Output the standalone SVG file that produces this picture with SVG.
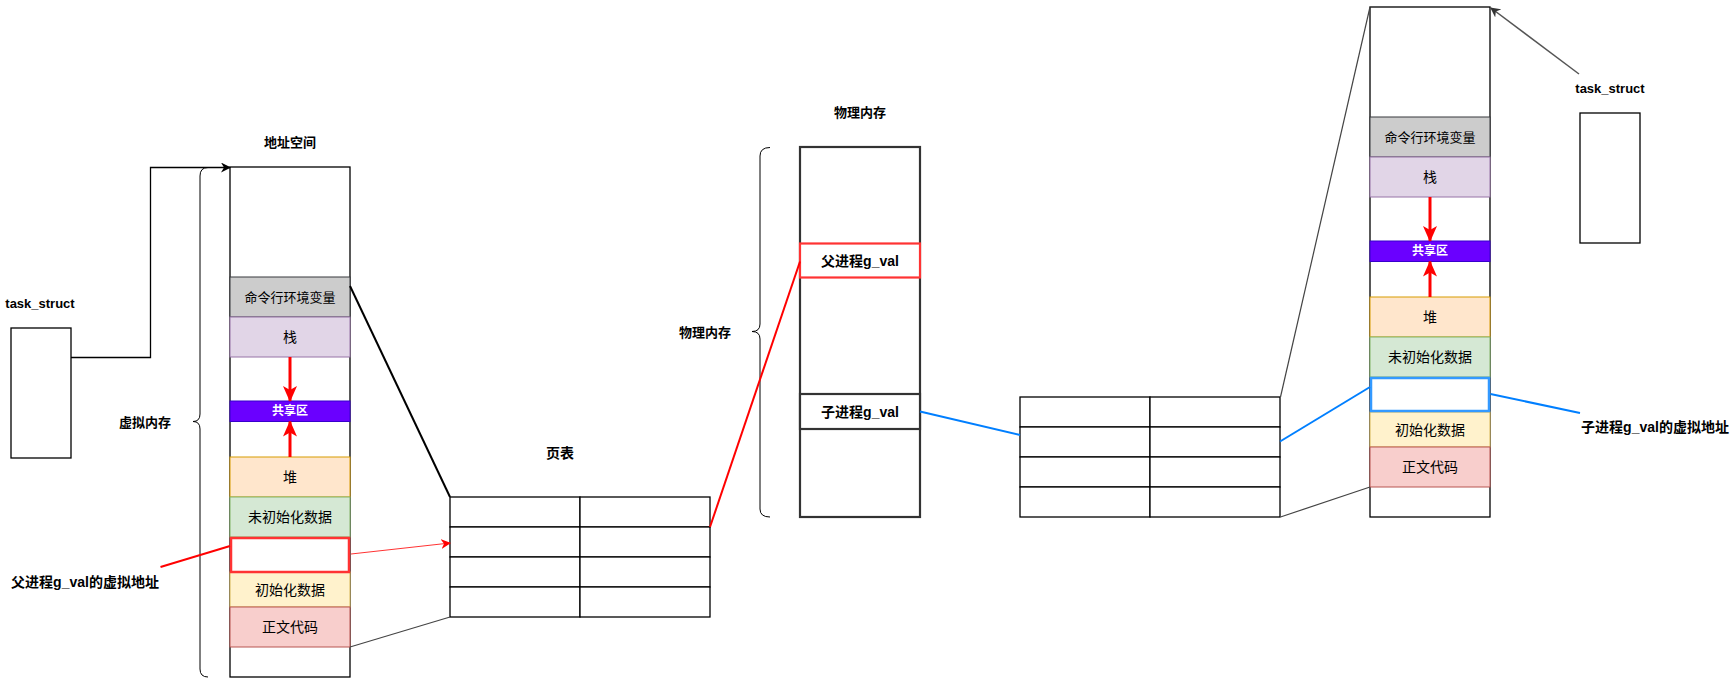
<svg xmlns="http://www.w3.org/2000/svg" width="1730" height="678" viewBox="0 0 1730 678">
<style>
text{font-family:"Liberation Sans","Noto Sans CJK SC",sans-serif;fill:#000;text-anchor:middle;dominant-baseline:central}
.t{font-size:14px}
.t13{font-size:13px}
.b{font-size:13px;font-weight:bold}
.b14{font-size:14px;font-weight:bold}
.w{font-size:12px;font-weight:bold;fill:#fff}
.box{fill:#fff;stroke:#000;stroke-width:1.3}
.cmd{fill:#cccccc;stroke:#36393d}
.stack{fill:#e1d5e7;stroke:#9673a6}
.share{fill:#6a00ff;stroke:#3700cc}
.heap{fill:#ffe6cc;stroke:#d79b00}
.bss{fill:#d5e8d4;stroke:#82b366}
.data{fill:#fff2cc;stroke:#d6b656}
.code{fill:#f8cecc;stroke:#b85450}
.redbox{fill:#fff;stroke:#ff3333;stroke-width:2.5}
.bluebox{fill:#fff;stroke:#3399ff;stroke-width:2.5}
.cell{fill:#fff;stroke:#000;stroke-width:1.3}
.phys{fill:#fff;stroke:#333;stroke-width:2.2}
.ln{fill:none}
.brace{fill:none;stroke:#000;stroke-width:1}
</style>
<defs>
<marker id="aBlk" markerUnits="userSpaceOnUse" markerWidth="10" markerHeight="10" refX="9" refY="5" orient="auto"><path d="M0,0 L10,5 L0,10 L3,5 z" fill="#000"/></marker>
<marker id="aGry" markerUnits="userSpaceOnUse" markerWidth="10" markerHeight="10" refX="9" refY="5" orient="auto"><path d="M0,0 L10,5 L0,10 L3,5 z" fill="#333"/></marker>
<marker id="aRed" markerUnits="userSpaceOnUse" markerWidth="10" markerHeight="10" refX="9" refY="5" orient="auto"><path d="M0,0 L10,5 L0,10 L3,5 z" fill="#ff0000"/></marker>
<marker id="aRedBig" markerUnits="userSpaceOnUse" markerWidth="16" markerHeight="16" refX="15" refY="8" orient="auto"><path d="M0,1 L16,8 L0,15 L4,8 z" fill="#ff0000"/></marker>
</defs>

<g id="task-struct-left">
<rect class="box" x="11" y="328" width="60" height="130"/>
<text class="b" x="40" y="303">task_struct</text>
</g>

<g id="addr-space-left">
<text class="b" x="290" y="142">地址空间</text>
<rect class="box" x="230" y="167" width="120" height="510"/>
<rect class="cmd" x="230" y="277" width="120" height="40"/>
<text class="t13" x="290" y="297">命令行环境变量</text>
<rect class="stack" x="230" y="317" width="120" height="40"/>
<text class="t" x="290" y="337">栈</text>
<rect class="share" x="230" y="401" width="120" height="20.5"/>
<text class="w" x="290" y="411">共享区</text>
<rect class="heap" x="230" y="457" width="120" height="40"/>
<text class="t" x="290" y="477">堆</text>
<rect class="bss" x="230" y="497" width="120" height="40"/>
<text class="t" x="290" y="517">未初始化数据</text>
<rect class="data" x="230" y="572" width="120" height="35"/>
<text class="t" x="290" y="589.5">初始化数据</text>
<rect class="code" x="230" y="607" width="120" height="40"/>
<text class="t" x="290" y="627">正文代码</text>
<rect class="redbox" x="231" y="538" width="118" height="34"/>
</g>

<g id="virt-brace">
<path class="brace" d="M208 167.5 Q200 167.5 200 176 L200 414 Q200 421.5 193 421.5 Q200 421.5 200 429 L200 669 Q200 677 208 677"/>
<text class="b" x="145" y="422">虚拟内存</text>
</g>

<g id="parent-vaddr-label">
<text class="b14" x="85" y="582">父进程g_val的虚拟地址</text>
</g>

<g id="page-table-left">
<text class="b14" x="560" y="453">页表</text>
<rect class="cell" x="450" y="497" width="130" height="30"/>
<rect class="cell" x="580" y="497" width="130" height="30"/>
<rect class="cell" x="450" y="527" width="130" height="30"/>
<rect class="cell" x="580" y="527" width="130" height="30"/>
<rect class="cell" x="450" y="557" width="130" height="30"/>
<rect class="cell" x="580" y="557" width="130" height="30"/>
<rect class="cell" x="450" y="587" width="130" height="30"/>
<rect class="cell" x="580" y="587" width="130" height="30"/>
</g>

<g id="physical-memory">
<text class="b" x="860" y="112">物理内存</text>
<rect class="phys" x="800" y="147" width="120" height="370"/>
<rect class="phys" x="800" y="394" width="120" height="35"/>
<text class="b14" x="860" y="411.5">子进程g_val</text>
<rect class="phys" x="800" y="243.5" width="120" height="34" style="stroke:#ff3333"/>
<text class="b14" x="860" y="260.5">父进程g_val</text>
</g>

<g id="phys-brace">
<path class="brace" d="M770 147.5 Q760 147.5 760 156 L760 324 Q760 331.5 752 331.5 Q760 331.5 760 339 L760 509 Q760 517 770 517"/>
<text class="b" x="705" y="332">物理内存</text>
</g>

<g id="page-table-right">
<rect class="cell" x="1020" y="397" width="130" height="30"/>
<rect class="cell" x="1150" y="397" width="130" height="30"/>
<rect class="cell" x="1020" y="427" width="130" height="30"/>
<rect class="cell" x="1150" y="427" width="130" height="30"/>
<rect class="cell" x="1020" y="457" width="130" height="30"/>
<rect class="cell" x="1150" y="457" width="130" height="30"/>
<rect class="cell" x="1020" y="487" width="130" height="30"/>
<rect class="cell" x="1150" y="487" width="130" height="30"/>
</g>

<g id="addr-space-right">
<rect class="box" x="1370" y="7" width="120" height="510"/>
<rect class="cmd" x="1370" y="117" width="120" height="40"/>
<text class="t13" x="1430" y="137">命令行环境变量</text>
<rect class="stack" x="1370" y="157" width="120" height="40"/>
<text class="t" x="1430" y="177">栈</text>
<rect class="share" x="1370" y="241" width="120" height="20.5"/>
<text class="w" x="1430" y="251">共享区</text>
<rect class="heap" x="1370" y="297" width="120" height="40"/>
<text class="t" x="1430" y="317">堆</text>
<rect class="bss" x="1370" y="337" width="120" height="40"/>
<text class="t" x="1430" y="357">未初始化数据</text>
<rect class="data" x="1370" y="412" width="120" height="35"/>
<text class="t" x="1430" y="429.5">初始化数据</text>
<rect class="code" x="1370" y="447" width="120" height="40"/>
<text class="t" x="1430" y="467">正文代码</text>
<rect class="bluebox" x="1371" y="378" width="118" height="33"/>
</g>

<g id="task-struct-right">
<rect class="box" x="1580" y="113" width="60" height="130"/>
<text class="b" x="1610" y="88">task_struct</text>
</g>

<g id="child-vaddr-label">
<text class="b14" x="1655" y="427">子进程g_val的虚拟地址</text>
</g>

<g id="connectors">
<path class="ln" d="M71 357.5 L150.5 357.5 L150.5 167.5 L230 167.5" stroke="#000" stroke-width="1.3" marker-end="url(#aBlk)"/>
<line x1="290" y1="357" x2="290" y2="401" stroke="#ff0000" stroke-width="3" marker-end="url(#aRedBig)"/>
<line x1="290" y1="457" x2="290" y2="421.5" stroke="#ff0000" stroke-width="3" marker-end="url(#aRedBig)"/>
<line x1="1430" y1="197" x2="1430" y2="241" stroke="#ff0000" stroke-width="3" marker-end="url(#aRedBig)"/>
<line x1="1430" y1="297" x2="1430" y2="261.5" stroke="#ff0000" stroke-width="3" marker-end="url(#aRedBig)"/>
<line x1="160.5" y1="567" x2="230" y2="546" stroke="#ff0000" stroke-width="2"/>
<line x1="351" y1="554" x2="450" y2="543" stroke="#ff3333" stroke-width="1" marker-end="url(#aRed)"/>
<line x1="350" y1="286" x2="450" y2="497" stroke="#000" stroke-width="2"/>
<line x1="350" y1="647" x2="450" y2="617" stroke="#444" stroke-width="1.2"/>
<line x1="710" y1="527" x2="800" y2="261.5" stroke="#ff0000" stroke-width="2"/>
<line x1="920" y1="411.5" x2="1020" y2="435" stroke="#007fff" stroke-width="2"/>
<line x1="1280" y1="441.5" x2="1370" y2="387" stroke="#007fff" stroke-width="2"/>
<line x1="1490.5" y1="394" x2="1580" y2="413" stroke="#007fff" stroke-width="2"/>
<line x1="1280.5" y1="397" x2="1370" y2="7" stroke="#444" stroke-width="1.2"/>
<line x1="1280.5" y1="517" x2="1370" y2="487" stroke="#444" stroke-width="1.2"/>
<line x1="1579" y1="74" x2="1491" y2="8" stroke="#555" stroke-width="1.5" marker-end="url(#aGry)"/>
</g>
</svg>
